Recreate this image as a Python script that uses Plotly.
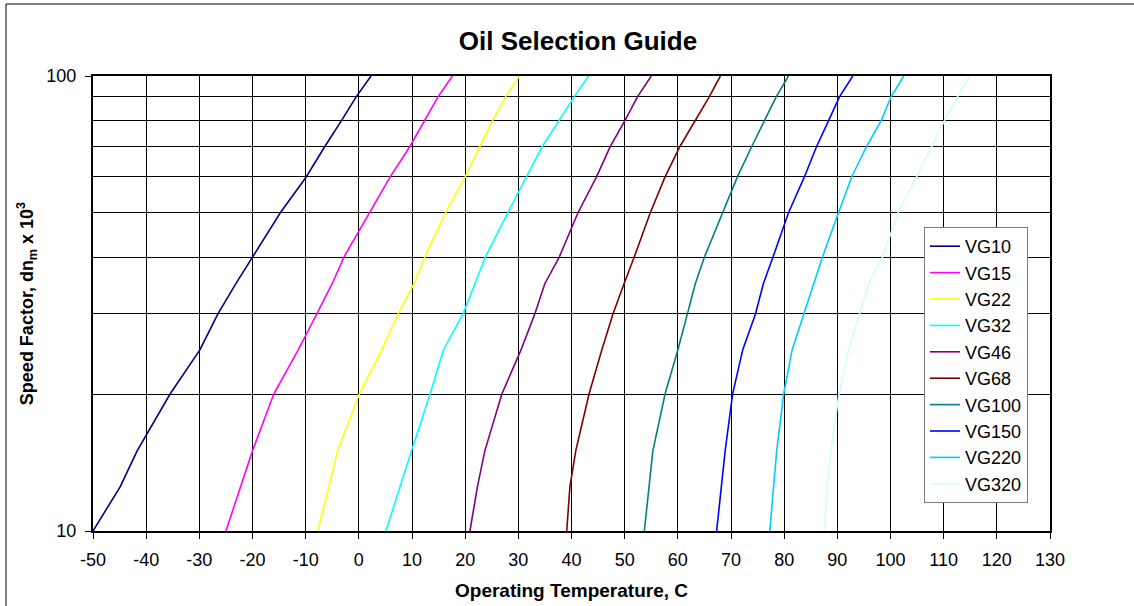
import plotly.graph_objects as go

# Speed factor levels (dn_m x 10^3) at which temperatures were read
speed_factor = [10, 12.5, 15, 20, 25, 30, 35, 40, 50, 60, 70, 80, 90, 100]

# Operating temperature (C) for each oil grade at the speed factor levels above
vg10 = [-50, -44.9, -41.7, -35.5, -29.9, -26.5, -23.1, -20.0, -14.8, -9.9, -6.4, -3.2, -0.5, 2.3]
vg15 = [-25, -22.3, -20.0, -16.0, -11.4, -7.9, -5.0, -2.8, 2.0, 5.9, 9.6, 12.4, 14.9, 17.6]
vg22 = [-7.7, -5.7, -4.0, 0.1, 4.3, 7.4, 10.4, 12.4, 16.3, 20.0, 22.8, 25.2, 27.6, 30.2]
vg32 = [5.1, 7.7, 9.9, 13.4, 15.9, 19.6, 21.8, 23.8, 28.0, 31.5, 34.5, 37.7, 40.5, 43.2]
vg46 = [20.9, 22.3, 23.7, 26.9, 30.5, 33.1, 35.0, 37.7, 41.2, 44.7, 47.3, 50.1, 52.4, 55.0]
vg68 = [39.1, 39.7, 40.8, 43.3, 45.7, 47.8, 49.9, 51.8, 54.8, 57.6, 60.4, 63.4, 65.9, 68.0]
vg100 = [53.7, 54.6, 55.3, 57.6, 60.0, 61.8, 63.3, 65.0, 68.4, 71.2, 73.9, 76.4, 78.5, 80.8]
vg150 = [67.3, 68.2, 68.9, 70.3, 72.2, 74.6, 76.1, 77.9, 80.8, 83.8, 86.1, 88.4, 90.4, 92.9]
vg220 = [77.3, 78.0, 78.6, 79.9, 81.5, 83.7, 85.6, 87.2, 90.2, 92.7, 95.5, 98.3, 100.1, 102.5]
vg320 = [87.5, 88.1, 88.8, 90.3, 92.1, 94.1, 95.9, 98.5, 101.4, 104.9, 107.7, 110.2, 112.6, 115.0]

series_names = ["VG10", "VG15", "VG22", "VG32", "VG46", "VG68", "VG100", "VG150", "VG220", "VG320"]
series_values = [vg10, vg15, vg22, vg32, vg46, vg68, vg100, vg150, vg220, vg320]
series_colors = ["#000080", "#FF00FF", "#FFFF00", "#00FFFF", "#800080",
                 "#800000", "#008080", "#0000FF", "#00CCFF", "#CCFFFF"]

x_ticks = list(range(-50, 131, 10))
x_ticktext = [str(v) for v in x_ticks]  # plain hyphen minus, as in the reference
y_major = [10, 100]
y_minor = [20, 30, 40, 50, 60, 70, 80, 90]

FONT = "Liberation Sans, Arial, sans-serif"

fig = go.Figure()
for name, vals, col in zip(series_names, series_values, series_colors):
    fig.add_trace(go.Scatter(x=vals, y=speed_factor, mode="lines", name=name,
                             line=dict(color=col, width=1.6)))

W, H = 1134, 606
L, R, T, B = 93, 84, 76, 75
pw, ph = W - L - R, H - T - B

def px_x(p):
    return (p - L) / pw

def px_y(p):
    return (H - B - p) / ph

fig.update_layout(
    width=W, height=H,
    margin=dict(l=L, r=R, t=T, b=B, autoexpand=False),
    paper_bgcolor="white", plot_bgcolor="white",
    font=dict(family=FONT, size=18, color="black"),
    title=dict(text="<b>Oil Selection Guide</b>", font=dict(size=26, family=FONT),
               x=578 / W, xref="container", xanchor="center",
               y=1 - 41 / H, yref="container", yanchor="middle"),
    showlegend=True,
    legend=dict(x=px_x(924), y=px_y(227), xanchor="left", yanchor="top",
                bgcolor="white", bordercolor="#808080", borderwidth=1,
                font=dict(size=18, family=FONT), itemwidth=30, tracegroupgap=0),
    xaxis=dict(range=[-50, 130], tickmode="array", tickvals=x_ticks, ticktext=x_ticktext,
               ticks="outside", ticklen=6, tickcolor="black", tickwidth=1,
               showgrid=True, gridcolor="black", gridwidth=1,
               showline=True, linecolor="black", linewidth=2, mirror=True,
               zeroline=False, ticklabelstandoff=5,
               title=dict(text="<b>Operating Temperature, C</b>",
                          font=dict(size=19, family=FONT), standoff=15)),
    yaxis=dict(type="log", range=[1, 2], tickmode="array", tickvals=y_major,
               ticktext=[str(v) for v in y_major],
               ticks="outside", ticklen=6, tickcolor="black", tickwidth=1,
               showgrid=True, gridcolor="black", gridwidth=1,
               minor=dict(tickmode="array", tickvals=y_minor, showgrid=True,
                          gridcolor="black", gridwidth=1, ticks=""),
               showline=True, linecolor="black", linewidth=2, mirror=True,
               zeroline=False, ticklabelstandoff=5,
               title=dict(text="<b>Speed Factor, dn<sub>m</sub> x 10<sup>3</sup></b>",
                          font=dict(size=18, family=FONT), standoff=8)),
)

# outer chart frame (extends past the right and bottom of the view)
fig.add_shape(type="rect", xref="paper", yref="paper",
              x0=px_x(6), x1=px_x(1140), y0=px_y(612), y1=px_y(4),
              line=dict(color="black", width=1), fillcolor="rgba(0,0,0,0)", layer="below")

fig.write_html("out.html", config={"displayModeBar": False},
               post_script="document.body.style.margin='0';document.body.style.padding='0';")
